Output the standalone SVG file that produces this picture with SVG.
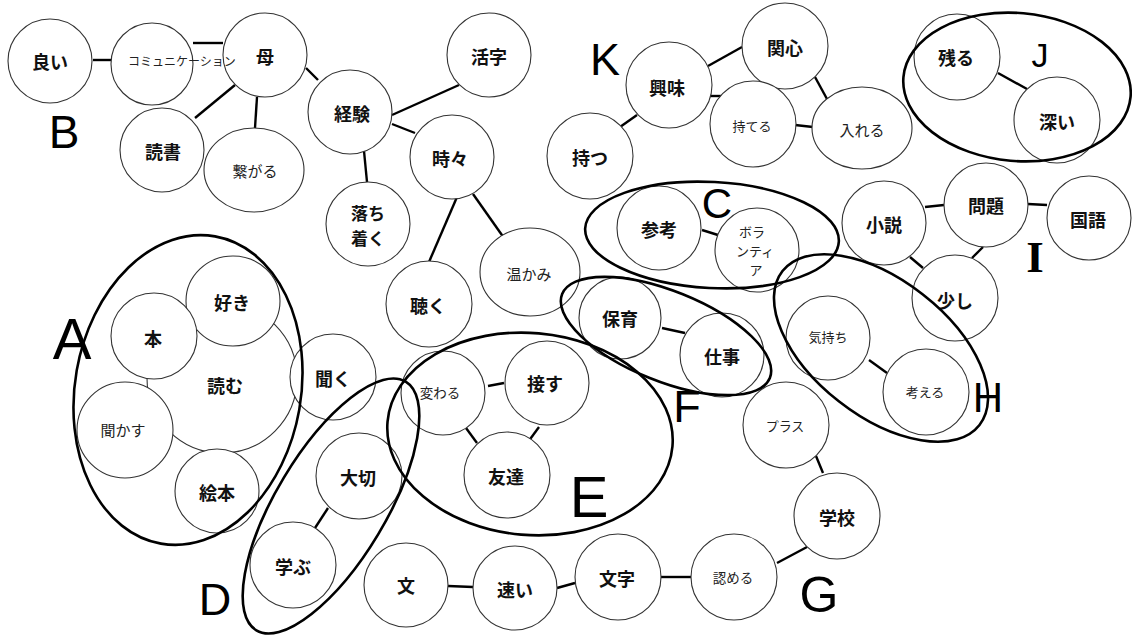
<svg xmlns="http://www.w3.org/2000/svg" width="1132" height="639" viewBox="0 0 1132 639">
  <style>
    .node { fill: #fff; stroke: #333; stroke-width: 1.1; }
    .lb { font-family: "Noto Sans CJK JP", "Noto Sans", sans-serif; font-size: 18px; font-weight: 700; fill: #111; text-anchor: middle; dominant-baseline: central; }
    .sm { font-family: "Noto Sans CJK JP", "Noto Sans", sans-serif; font-size: 13.5px; font-weight: 400; fill: #222; text-anchor: middle; dominant-baseline: central; }
    .edge { stroke: #000; stroke-width: 2.4; stroke-linecap: butt; fill: none; }
    .grp { fill: none; stroke: #000; stroke-width: 2.6; }
    .tag { font-family: "Liberation Sans", Arial, sans-serif; fill: #000; text-anchor: middle; }
  </style>

  <rect width="1132" height="639" fill="#fff"/>

  <!-- connectors -->
  <g id="connectors">
    <line class="edge" x1="93" y1="60" x2="111" y2="60"/>
    <line class="edge" x1="193" y1="43" x2="223" y2="43"/>
    <line class="edge" x1="235" y1="85" x2="195" y2="118"/>
    <line class="edge" x1="257" y1="97" x2="255" y2="128"/>
    <line class="edge" x1="306" y1="68" x2="318" y2="80"/>
    <line class="edge" x1="392" y1="115" x2="459" y2="85"/>
    <line class="edge" x1="392" y1="124" x2="415" y2="133"/>
    <line class="edge" x1="364" y1="151" x2="367" y2="182"/>
    <line class="edge" x1="457" y1="197" x2="429" y2="262"/>
    <line class="edge" x1="473" y1="194" x2="504" y2="238"/>
    <line class="edge" x1="708" y1="66" x2="742" y2="47"/>
    <line class="edge" x1="710" y1="96" x2="723" y2="96"/>
    <line class="edge" x1="815" y1="77" x2="827" y2="99"/>
    <line class="edge" x1="795" y1="125" x2="813" y2="127"/>
    <line class="edge" x1="637" y1="115" x2="620" y2="127"/>
    <line class="edge" x1="998" y1="73" x2="1027" y2="89"/>
    <line class="edge" x1="702" y1="230" x2="718" y2="235"/>
    <line class="edge" x1="925" y1="207" x2="944" y2="205"/>
    <line class="edge" x1="1028" y1="204" x2="1047" y2="205"/>
    <line class="edge" x1="910" y1="257" x2="923" y2="268"/>
    <line class="edge" x1="983" y1="247" x2="972" y2="258"/>
    <line class="edge" x1="869" y1="360" x2="887" y2="373"/>
    <line class="edge" x1="662" y1="328" x2="685" y2="333"/>
    <line class="edge" x1="488" y1="386" x2="504" y2="383"/>
    <line class="edge" x1="466" y1="428" x2="477" y2="443"/>
    <line class="edge" x1="539" y1="427" x2="528" y2="442"/>
    <line class="edge" x1="328" y1="508" x2="315" y2="528"/>
    <line class="edge" x1="448" y1="586" x2="473" y2="587"/>
    <line class="edge" x1="557" y1="588" x2="575" y2="583"/>
    <line class="edge" x1="660" y1="577" x2="691" y2="577"/>
    <line class="edge" x1="777" y1="563" x2="807" y2="547"/>
    <line class="edge" x1="816" y1="456" x2="823" y2="473"/>
  </g>

  <!-- cluster B -->
  <g id="n-yoi"><circle class="node" cx="50" cy="61" r="42"/><text class="lb" x="50" y="61">良い</text></g>
  <g id="n-haha"><circle class="node" cx="265" cy="55" r="42"/><text class="lb" x="265" y="56">母</text></g>
  <g id="n-comm"><circle class="node" cx="152" cy="64" r="41"/><text class="sm" x="182" y="60" style="font-size:12px">コミュニケーション</text></g>
  <g id="n-dokusho"><circle class="node" cx="162" cy="150" r="42"/><text class="lb" x="163" y="151">読書</text></g>
  <g id="n-tsunagaru"><ellipse class="node" cx="254" cy="170" rx="50" ry="42"/><text class="sm" x="255" y="170" style="font-size:15px">繋がる</text></g>
  <g id="n-keiken"><circle class="node" cx="350" cy="112" r="42"/><text class="lb" x="352" y="113">経験</text></g>
  <g id="n-katsuji"><circle class="node" cx="489" cy="55" r="42"/><text class="lb" x="489" y="56">活字</text></g>
  <g id="n-tokidoki"><circle class="node" cx="452" cy="157" r="42"/><text class="lb" x="450" y="158">時々</text></g>
  <g id="n-ochitsuku"><circle class="node" cx="368" cy="224" r="42"/><text class="lb" x="368" y="212" style="font-size:17px">落ち</text><text class="lb" x="368" y="237" style="font-size:17px">着く</text></g>
  <g id="n-kiku-listen"><circle class="node" cx="429" cy="304" r="43"/><text class="lb" x="428" y="305">聴く</text></g>
  <g id="n-atatakami"><ellipse class="node" cx="530" cy="272" rx="50" ry="44"/><text class="sm" x="529" y="273" style="font-size:15px">温かみ</text></g>

  <!-- cluster K -->
  <g id="n-kyomi"><circle class="node" cx="669" cy="85" r="43"/><text class="lb" x="667" y="87">興味</text></g>
  <g id="n-kanshin"><circle class="node" cx="785" cy="46" r="43"/><text class="lb" x="785" y="47">関心</text></g>
  <g id="n-moteru"><circle class="node" cx="753" cy="124" r="43"/><text class="sm" x="752" y="125" style="font-size:13px">持てる</text></g>
  <g id="n-ireru"><ellipse class="node" cx="862" cy="128" rx="50" ry="41"/><text class="sm" x="862" y="129" style="font-size:15px">入れる</text></g>
  <g id="n-motsu"><circle class="node" cx="590" cy="156" r="43"/><text class="lb" x="590" y="157">持つ</text></g>

  <!-- cluster J -->
  <g id="n-nokoru"><circle class="node" cx="957" cy="57" r="43"/><text class="lb" x="956" y="57">残る</text></g>
  <g id="n-fukai"><circle class="node" cx="1057" cy="120" r="43"/><text class="lb" x="1057" y="121">深い</text></g>

  <!-- cluster C -->
  <g id="n-sanko"><circle class="node" cx="659" cy="228" r="42"/><text class="lb" x="659" y="229">参考</text></g>
  <g id="n-volunteer"><circle class="node" cx="757" cy="250" r="42"/>
    <text class="sm" x="752" y="231" style="font-size:13px">ボラ</text>
    <text class="sm" x="755" y="250" style="font-size:13px">ンティ</text>
    <text class="sm" x="756" y="269" style="font-size:13px">ア</text></g>

  <!-- cluster I -->
  <g id="n-shosetsu"><circle class="node" cx="884" cy="223" r="42"/><text class="lb" x="884" y="224">小説</text></g>
  <g id="n-mondai"><circle class="node" cx="986" cy="205" r="42"/><text class="lb" x="986" y="205">問題</text></g>
  <g id="n-kokugo"><circle class="node" cx="1089" cy="218" r="42"/><text class="lb" x="1088" y="219">国語</text></g>
  <g id="n-sukoshi"><circle class="node" cx="955" cy="298" r="43"/><text class="lb" x="955" y="300">少し</text></g>

  <!-- cluster H -->
  <g id="n-kimochi"><circle class="node" cx="828" cy="338" r="42"/><text class="sm" x="828" y="336" style="font-size:13px">気持ち</text></g>
  <g id="n-kangaeru"><circle class="node" cx="926" cy="392" r="43"/><text class="sm" x="925" y="391" style="font-size:13px">考える</text></g>

  <!-- cluster F -->
  <g id="n-hoiku"><circle class="node" cx="620" cy="318" r="41"/><text class="lb" x="620" y="318">保育</text></g>
  <g id="n-shigoto"><circle class="node" cx="722" cy="355" r="42"/><text class="lb" x="722" y="356">仕事</text></g>

  <!-- cluster E -->
  <g id="n-kawaru"><circle class="node" cx="443" cy="393" r="42"/><text class="sm" x="440" y="392" style="font-size:13.5px">変わる</text></g>
  <g id="n-sessu"><circle class="node" cx="547" cy="383" r="42"/><text class="lb" x="545" y="383">接す</text></g>
  <g id="n-tomodachi"><circle class="node" cx="507" cy="475" r="43"/><text class="lb" x="506" y="476">友達</text></g>

  <!-- cluster A -->
  <g id="n-yomu"><circle class="node" cx="222" cy="378" r="75"/><text class="lb" x="225" y="385">読む</text></g>
  <g id="n-suki"><ellipse class="node" cx="233" cy="301" rx="47" ry="45"/><text class="lb" x="232" y="302">好き</text></g>
  <g id="n-hon"><circle class="node" cx="154" cy="336" r="43"/><text class="lb" x="153" y="338">本</text></g>
  <g id="n-kikasu"><circle class="node" cx="125" cy="430" r="48"/><text class="sm" x="123" y="429" style="font-size:15px">聞かす</text></g>
  <g id="n-ehon"><circle class="node" cx="217" cy="491" r="42"/><text class="lb" x="217" y="492">絵本</text></g>
  <g id="n-kiku"><circle class="node" cx="333" cy="377" r="43"/><text class="lb" x="333" y="378">聞く</text></g>

  <!-- cluster D and the lower chain -->
  <g id="n-taisetsu"><circle class="node" cx="359" cy="476" r="43"/><text class="lb" x="358" y="477">大切</text></g>
  <g id="n-manabu"><circle class="node" cx="293" cy="565" r="43"/><text class="lb" x="293" y="566">学ぶ</text></g>
  <g id="n-bun"><circle class="node" cx="406" cy="585" r="42"/><text class="lb" x="406" y="585">文</text></g>
  <g id="n-hayai"><circle class="node" cx="515" cy="588" r="42"/><text class="lb" x="515" y="589">速い</text></g>
  <g id="n-moji"><circle class="node" cx="618" cy="577" r="43"/><text class="lb" x="617" y="578">文字</text></g>
  <g id="n-mitomeru"><circle class="node" cx="734" cy="577" r="43"/><text class="sm" x="733" y="577" style="font-size:13.5px">認める</text></g>
  <g id="n-gakko"><circle class="node" cx="837" cy="516" r="43"/><text class="lb" x="837" y="517">学校</text></g>
  <g id="n-plus"><circle class="node" cx="786" cy="425" r="43"/><text class="sm" x="785" y="425" style="font-size:13px">プラス</text></g>

  <!-- group outlines -->
  <g id="groups">
    <ellipse class="grp" cx="188" cy="390" rx="113" ry="156" transform="rotate(10 188 390)"/>
    <ellipse class="grp" cx="331" cy="506" rx="145" ry="55" transform="rotate(-59 331 506)"/>
    <ellipse class="grp" cx="530" cy="434" rx="143" ry="101" transform="rotate(5 530 434)"/>
    <ellipse class="grp" cx="666" cy="336" rx="112" ry="45" transform="rotate(22 666 336)"/>
    <ellipse class="grp" cx="712" cy="235" rx="127" ry="53" transform="rotate(3 712 235)"/>
    <ellipse class="grp" cx="881" cy="348" rx="125" ry="68" transform="rotate(38 881 348)"/>
    <ellipse class="grp" cx="1017" cy="87" rx="114" ry="74" transform="rotate(5 1017 87)"/>
  </g>

  <!-- group letters -->
  <g id="labels">
    <text class="tag" x="72" y="359" font-size="58">A</text>
    <text class="tag" x="64" y="148" font-size="46">B</text>
    <text class="tag" x="717" y="218" font-size="42">C</text>
    <text class="tag" x="215" y="615" font-size="45">D</text>
    <text class="tag" x="589" y="517" font-size="58">E</text>
    <text class="tag" x="687" y="422" font-size="45">F</text>
    <text class="tag" x="819" y="612" font-size="50">G</text>
    <text class="tag" x="988" y="412" font-size="42">H</text>
    <text class="tag" x="1035" y="272" font-size="45" style="font-family:'Liberation Serif','Times New Roman',serif;font-weight:700">I</text>
    <text class="tag" x="1040" y="67" font-size="34">J</text>
    <text class="tag" x="605" y="75" font-size="45">K</text>
  </g>
</svg>
